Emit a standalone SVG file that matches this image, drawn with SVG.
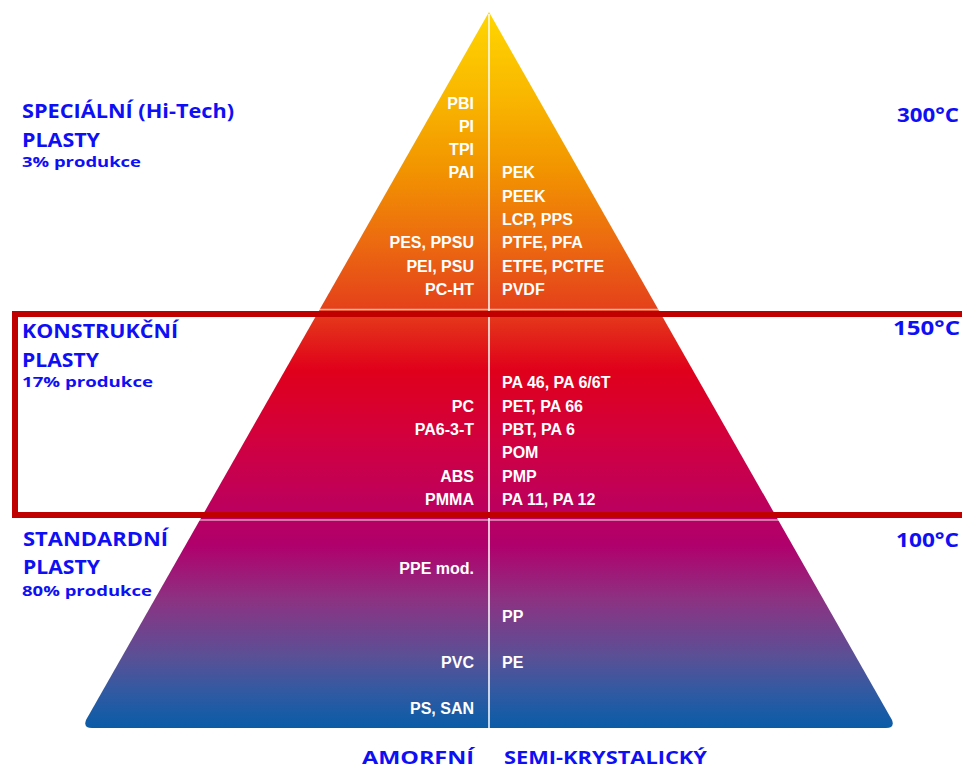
<svg xmlns="http://www.w3.org/2000/svg" width="962" height="769" viewBox="0 0 962 769">
<defs>
<linearGradient id="pg" gradientUnits="userSpaceOnUse" x1="0" y1="12" x2="0" y2="728">
<stop offset="0" stop-color="#ffd600"/>
<stop offset="0.12" stop-color="#f9b600"/>
<stop offset="0.22" stop-color="#f29400"/>
<stop offset="0.32" stop-color="#ec6b10"/>
<stop offset="0.41" stop-color="#e5431a"/>
<stop offset="0.50" stop-color="#e0001b"/>
<stop offset="0.60" stop-color="#d10040"/>
<stop offset="0.68" stop-color="#bf005a"/>
<stop offset="0.745" stop-color="#b0006c"/>
<stop offset="0.82" stop-color="#8c3282"/>
<stop offset="0.90" stop-color="#5a5096"/>
<stop offset="0.95" stop-color="#305aa2"/>
<stop offset="1" stop-color="#0a5ca8"/>
</linearGradient>
<style>
.lbl{font-family:"Liberation Sans",Arial,sans-serif;font-weight:bold;font-size:16px;fill:#ffffff}
.l{text-anchor:end}
.blue{font-family:"Open Sans","Noto Sans",sans-serif;font-weight:700;fill:#0f0ff5}
.big{font-size:19px}
.small{font-size:15px}
.temp{font-size:19px;text-anchor:end}
.sep{stroke:#ffffff;stroke-width:1.5;fill:none}
</style>
</defs>
<rect width="962" height="769" fill="#ffffff"/>
<g id="pyramid">
<path d="M489,12 L86,720 Q83,728 92,728 L886,728 Q895,728 892,720 Z" fill="url(#pg)"/>
</g>
<g id="connectors">
<line class="sep" x1="489" y1="14" x2="489" y2="728"/>
<line class="sep" x1="300" y1="309.5" x2="680" y2="309.5" stroke-opacity="0.6"/>
<line class="sep" x1="190" y1="520" x2="790" y2="520" stroke-opacity="0.6"/>
</g>
<g id="band-frame">
<rect x="15" y="314" width="960" height="201" fill="none" stroke="#c00000" stroke-width="6"/>
</g>
<g id="special-labels">
<text class="lbl l" x="474" y="109">PBI</text>
<text class="lbl l" x="474" y="132">PI</text>
<text class="lbl l" x="474" y="155">TPI</text>
<text class="lbl l" x="474" y="178">PAI</text>
<text class="lbl l" x="474" y="248">PES, PPSU</text>
<text class="lbl l" x="474" y="272">PEI, PSU</text>
<text class="lbl l" x="474" y="295">PC-HT</text>
<text class="lbl" x="502" y="178">PEK</text>
<text class="lbl" x="502" y="202">PEEK</text>
<text class="lbl" x="502" y="225">LCP, PPS</text>
<text class="lbl" x="502" y="248">PTFE, PFA</text>
<text class="lbl" x="502" y="272">ETFE, PCTFE</text>
<text class="lbl" x="502" y="295">PVDF</text>
</g>
<g id="construction-labels">
<text class="lbl" x="502" y="388">PA 46, PA 6/6T</text>
<text class="lbl l" x="474" y="412">PC</text>
<text class="lbl" x="502" y="412">PET, PA 66</text>
<text class="lbl l" x="474" y="435">PA6-3-T</text>
<text class="lbl" x="502" y="435">PBT, PA 6</text>
<text class="lbl" x="502" y="458">POM</text>
<text class="lbl l" x="474" y="482">ABS</text>
<text class="lbl" x="502" y="482">PMP</text>
<text class="lbl l" x="474" y="505">PMMA</text>
<text class="lbl" x="502" y="505">PA 11, PA 12</text>
</g>
<g id="standard-labels">
<text class="lbl l" x="474" y="574">PPE mod.</text>
<text class="lbl" x="502" y="622">PP</text>
<text class="lbl l" x="474" y="668">PVC</text>
<text class="lbl" x="502" y="668">PE</text>
<text class="lbl l" x="474" y="714">PS, SAN</text>
</g>
<g id="special-title">
<text class="blue big" x="22" y="118" textLength="212" lengthAdjust="spacingAndGlyphs">SPECIÁLNÍ (Hi-Tech)</text>
<text class="blue big" x="22" y="147" textLength="78" lengthAdjust="spacingAndGlyphs">PLASTY</text>
<text class="blue small" x="22" y="167" textLength="119" lengthAdjust="spacingAndGlyphs">3% produkce</text>
</g>
<g id="construction-title">
<text class="blue big" x="22" y="338" textLength="156" lengthAdjust="spacingAndGlyphs">KONSTRUKČNÍ</text>
<text class="blue big" x="22" y="367" textLength="77" lengthAdjust="spacingAndGlyphs">PLASTY</text>
<text class="blue small" x="22" y="387" textLength="131" lengthAdjust="spacingAndGlyphs">17% produkce</text>
</g>
<g id="standard-title">
<text class="blue big" x="23" y="546" textLength="145" lengthAdjust="spacingAndGlyphs">STANDARDNÍ</text>
<text class="blue big" x="23" y="574" textLength="77" lengthAdjust="spacingAndGlyphs">PLASTY</text>
<text class="blue small" x="22" y="596" textLength="130" lengthAdjust="spacingAndGlyphs">80% produkce</text>
</g>
<g id="temperatures">
<text class="blue temp" x="959" y="122" textLength="62" lengthAdjust="spacingAndGlyphs">300°C</text>
<text class="blue temp" x="960" y="335" textLength="67" lengthAdjust="spacingAndGlyphs">150°C</text>
<text class="blue temp" x="959" y="547" textLength="63" lengthAdjust="spacingAndGlyphs">100°C</text>
</g>
<g id="axis-labels">
<text class="blue" font-size="18" x="362" y="764" textLength="112" lengthAdjust="spacingAndGlyphs">AMORFNÍ</text>
<text class="blue" font-size="18" x="504" y="764" textLength="203" lengthAdjust="spacingAndGlyphs">SEMI-KRYSTALICKÝ</text>
</g>
</svg>
